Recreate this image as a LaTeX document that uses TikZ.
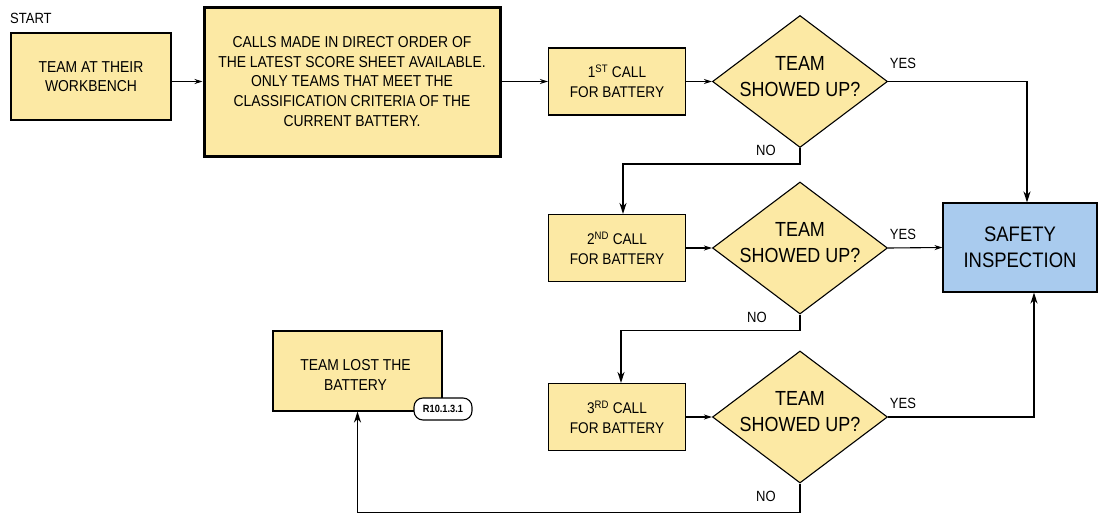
\documentclass[tikz,border=0pt]{standalone}
\usepackage{fontspec}
\setmainfont[FakeStretch=0.88]{Liberation Sans}
\usetikzlibrary{shapes.geometric,arrows.meta,calc}
\definecolor{ylw}{HTML}{FCE9A4}
\definecolor{blu}{HTML}{A9CBEE}
\tikzset{
  box/.style={draw=black, line width=1.1pt, fill=ylw, align=center, inner sep=0pt, font=\fontsize{15.8}{19.7}\selectfont},
  callbox/.style={box, minimum width=137pt, minimum height=67pt, font=\fontsize{15.5}{20}\selectfont},
  dec/.style={diamond, draw=black, line width=1.1pt, fill=ylw, inner sep=0pt, aspect=1.33, minimum width=175pt, minimum height=132pt,
    label={[align=center, yshift=5pt, font=\fontsize{20.4}{26}\selectfont]center:TEAM\\SHOWED UP?}},
  lbl/.style={font=\fontsize{14.8}{15}\selectfont, inner sep=0pt},
  thin/.style={line width=1.1pt, -{Stealth[length=8pt,width=5pt]}},
  thick/.style={line width=1.7pt, -{Stealth[length=11pt,width=7pt]}},
  badge/.style={draw=black, line width=1.1pt, fill=white, rounded corners=9pt, minimum width=58pt, minimum height=22pt, inner sep=1pt, font=\bfseries\fontsize{10.5}{11}\selectfont}
}
\begin{document}
\begin{tikzpicture}[x=1pt,y=-1pt]
\useasboundingbox (0,0) rectangle (1098,514);
\node[lbl, anchor=west] (start) at (10,18) {START};
\node[box, minimum width=160pt, minimum height=87pt] (b1) at (91,76.5) {TEAM AT THEIR\\WORKBENCH};
\node[box, line width=3pt, minimum width=296pt, minimum height=149pt] (b2) at (352,81.5) {CALLS MADE IN DIRECT ORDER OF\\THE LATEST SCORE SHEET AVAILABLE.\\ONLY TEAMS THAT MEET THE\\CLASSIFICATION CRITERIA OF THE\\CURRENT BATTERY.};
\node[callbox] (c1) at (617,81.5) {1\textsuperscript{ST} CALL\\FOR BATTERY};
\node[callbox] (c2) at (617,248) {2\textsuperscript{ND} CALL\\FOR BATTERY};
\node[callbox] (c3) at (617,417) {3\textsuperscript{RD} CALL\\FOR BATTERY};
\node[dec] (d1) at (800,81.5) {};
\node[dec] (d2) at (800,248) {};
\node[dec] (d3) at (800,417) {};
\node[box, fill=blu, minimum width=154pt, minimum height=89pt, font=\fontsize{21}{26}\selectfont] (s) at (1020,247.5) {SAFETY\\INSPECTION};
\node[box, minimum width=169pt, minimum height=80pt,
  label={[align=center, yshift=-4pt, xshift=-2pt, font=\fontsize{15.8}{19.7}\selectfont]center:TEAM LOST THE\\BATTERY}] (lost) at (357.5,371) {};
\node[badge] (r) at (443,409) {R10.1.3.1};
\node[lbl] (y1) at (903,63) {YES};
\node[lbl] (y2) at (903,234) {YES};
\node[lbl] (y3) at (903,403) {YES};
\node[lbl] (n1) at (766,150) {NO};
\node[lbl] (n2) at (757,317) {NO};
\node[lbl] (n3) at (766,496) {NO};
\draw[thin] (b1.east |- b2.west) -- (b2.west);
\draw[thin] (b2.east) -- (c1.west);
\draw[thin] (c1.east) -- (d1.west);
\draw[thin] (c2.east) -- (d2.west);
\draw[thin] (c3.east) -- (d3.west);
\draw[thick] (d1.east) -| ([xshift=7pt]s.north);
\draw[thin] (d2.east) -- (s.west);
\draw[thick] (d3.east) -| ([xshift=14pt]s.south);
\draw[thick] (d1.south) -- ++(0,16) -| ([xshift=6pt]c2.north);
\draw[thick] (d2.south) -- ++(0,16) -| ([xshift=4pt]c3.north);
\draw[thick] (d3.south) -- ++(0,29) -| (lost.south);
\end{tikzpicture}
\end{document}
